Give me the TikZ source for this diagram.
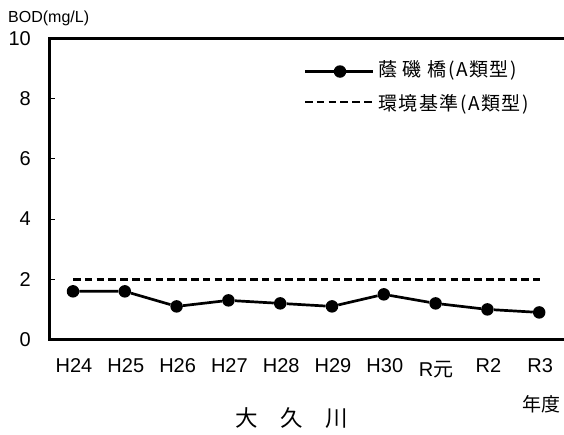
\documentclass[tikz,border=0pt]{standalone}
\usepackage{fontspec}
\setmainfont{Liberation Sans}
\newfontfamily\cjk{Noto Sans CJK JP}
\newfontfamily\cjkleg[LetterSpace=8]{Noto Sans CJK JP}
\begin{document}
\begin{tikzpicture}[x=1pt,y=-1pt,
  frameline/.style={line width=3pt},
  dataline/.style={line width=2.7pt},
  stdline/.style={line width=2.8pt,dash pattern=on 7.5pt off 4.3pt},
  pt/.style={circle,fill=black,inner sep=0pt,minimum size=12.5pt},
  ticklab/.style={font=\fontsize{20}{20}\selectfont,inner sep=0pt},
  xlab/.style={font=\fontsize{20}{20}\selectfont,inner sep=0pt},
  leglab/.style={font=\cjkleg\fontsize{19}{19}\selectfont,inner sep=0pt,anchor=west}]
\useasboundingbox (0,0) rectangle (564,434);
% frame
\coordinate (o) at (49,339.5);
\coordinate (tl) at (49,38.5);
\coordinate (tr) at (566,38.5);
\coordinate (br) at (566,339.5);
\draw[frameline] (tr) -- (tl) -- (o) -- (br);
% ticks and y labels
\foreach \v in {2,4,6,8}{
  \draw[line width=1pt] (49,{339.5-30.1*\v}) -- (55,{339.5-30.1*\v});
  \node[ticklab,anchor=east] at (31,{339.5-30.1*\v}) {\v};
}
\node[ticklab,anchor=east] (y0) at (31,340) {0};
\node[ticklab,anchor=east] (y10) at (31,38.5) {10};
\node[font=\fontsize{16}{16}\selectfont,inner sep=0pt,anchor=west] (unit) at (8,18) {BOD(mg/L)};
% standard line
\coordinate (s1) at (73,279.3);
\coordinate (s2) at (540,279.3);
\draw[stdline] (s1) -- (s2);
% data
\foreach \i/\v in {1/1.6,2/1.6,3/1.1,4/1.3,5/1.2,6/1.1,7/1.5,8/1.2,9/1.0,10/0.9}{
  \node[pt] (p\i) at ({73+51.8*(\i-1)},{339.5-30.1*\v}) {};
}
\draw[dataline] (p1) -- (p2) -- (p3) -- (p4) -- (p5) -- (p6) -- (p7) -- (p8) -- (p9) -- (p10);
% x labels
\foreach \i/\t in {1/H24,2/H25,3/H26,4/H27,5/H28,6/H29,7/H30,9/R2,10/R3}{
  \node[xlab] (l\t) at ({74+51.8*(\i-1)},366) {\t};
}
\node[xlab] (lR1) at (436,370) {R{\cjk 元}};
\node[font=\cjk\fontsize{19}{19}\selectfont,inner sep=0pt] (nendo) at (541,404) {年度};
\node[font=\cjk\fontsize{22.5}{22.5}\selectfont,inner sep=0pt] (title) at (292,418) {大　久　川};
% legend
\coordinate (la) at (305,71.5);
\coordinate (lb) at (373,71.5);
\draw[dataline] (la) -- (lb);
\node[pt] (lm) at (340,71.5) {};
\node[leglab] (lt1) at (378,70) {蔭 磯 橋(A類型)};
\coordinate (lc) at (305,102);
\coordinate (ld) at (373,102);
\draw[stdline] (lc) -- (ld);
\node[leglab] (lt2) at (378,104) {環境基準(A類型)};
\end{tikzpicture}
\end{document}
